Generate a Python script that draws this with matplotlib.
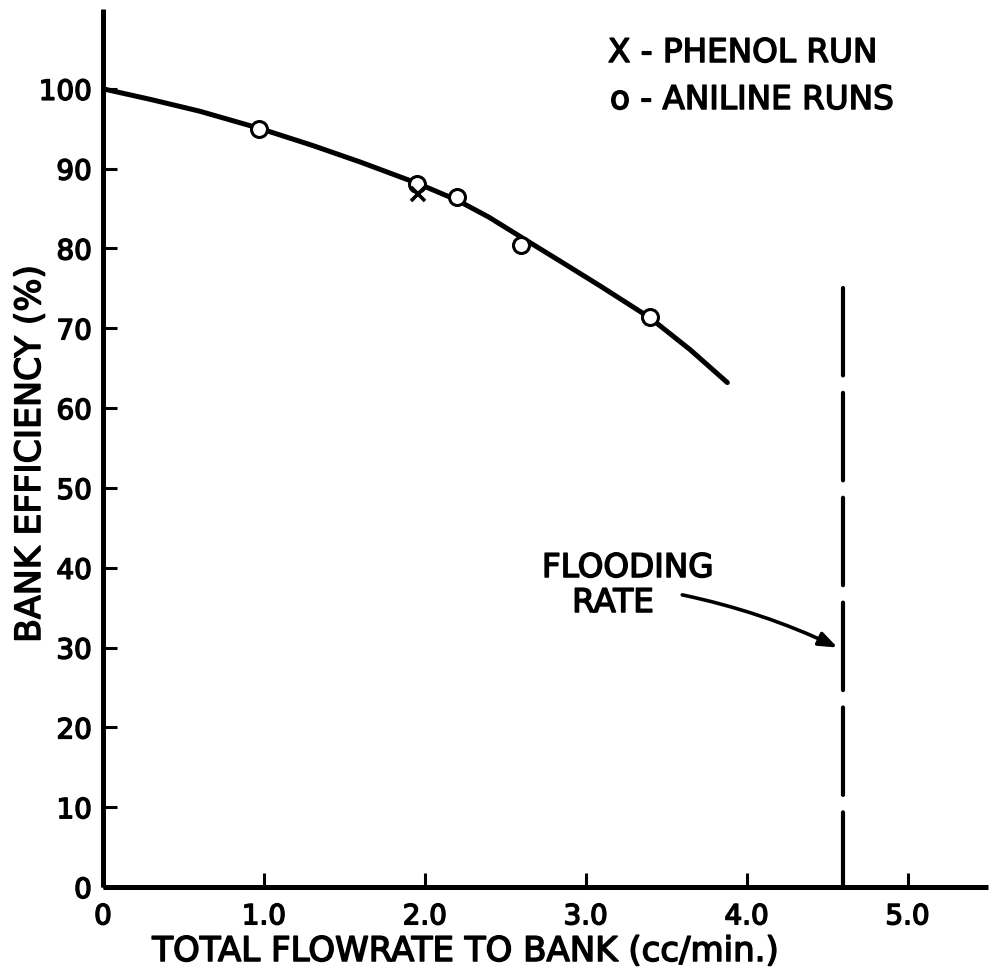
import matplotlib
matplotlib.use("Agg")
import matplotlib.pyplot as plt
import matplotlib.patheffects as pe

# ---- data ----
curve_x = [0.0, 0.3, 0.6, 0.97, 1.3, 1.6, 1.95, 2.2, 2.4, 2.6, 2.85, 3.09, 3.4, 3.65, 3.88]
curve_y = [100.0, 98.65, 97.2, 95.06, 92.92, 90.82, 88.19, 86.06, 83.9, 81.4, 78.3, 75.3, 71.3, 67.3, 63.2]

aniline_x = [0.97, 1.95, 2.2, 2.6, 3.4]
aniline_y = [95.0, 88.1, 86.5, 80.4, 71.4]

phenol_x = [1.96]
phenol_y = [86.8]

flooding_x = 4.6
flooding_y = [75.0, 0.0]

x_ticks = [0, 1, 2, 3, 4, 5]
x_ticklabels = ["0", "1.0", "2.0", "3.0", "4.0", "5.0"]
y_ticks = [0, 10, 20, 30, 40, 50, 60, 70, 80, 90, 100]
y_ticklabels = ["0", "10", "20", "30", "40", "50", "60", "70", "80", "90", "100"]

plt.rcParams["font.family"] = ["DejaVu Sans"]
plt.rcParams["lines.scale_dashes"] = False

thick = [pe.withStroke(linewidth=1.1, foreground="black")]

W, H = 995, 970
fig = plt.figure(figsize=(W / 100, H / 100), dpi=100)
fig.patch.set_facecolor("white")

left, right, bottom, top = 103, 988, 888, 10
ax = fig.add_axes([left / W, 1 - bottom / H, (right - left) / W, (bottom - top) / H])
ax.set_xlim(0, 5.5)
ax.set_ylim(0, 110)

for s in ["top", "right"]:
    ax.spines[s].set_visible(False)
for s in ["left", "bottom"]:
    ax.spines[s].set_linewidth(3.6)
    ax.spines[s].set_capstyle("butt")

ax.set_xticks(x_ticks)
ax.set_xticklabels(x_ticklabels)
ax.set_yticks(y_ticks)
ax.set_yticklabels(y_ticklabels)
ax.tick_params(axis="both", direction="in", length=10, width=2.2, labelsize=20, colors="black")
ax.tick_params(axis="x", pad=11)
ax.tick_params(axis="y", pad=8)
for lab in ax.get_xticklabels() + ax.get_yticklabels():
    lab.set_path_effects(thick)

# curve
ax.plot(curve_x, curve_y, color="black", lw=3.6, solid_capstyle="round",
        solid_joinstyle="round", zorder=3)
# aniline circles
ax.plot(aniline_x, aniline_y, linestyle="none", marker="o", ms=11.5, mfc="white",
        mec="black", mew=2.2, zorder=4)
# phenol x
ax.plot(phenol_x, phenol_y, linestyle="none", marker="x", ms=10.5, mec="black", mew=2.6, zorder=5)

# flooding rate dashed line
ax.plot([flooding_x, flooding_x], flooding_y, color="black", lw=3.0,
        dashes=(63, 12.5), solid_capstyle="round", dash_capstyle="round", zorder=3)

# arrow
ax.annotate("", xy=(4.565, 30.0), xytext=(3.6, 36.6),
            arrowprops=dict(arrowstyle="-|>,head_length=1.1,head_width=0.42",
                            connectionstyle="arc3,rad=-0.06", lw=2.6, color="black",
                            shrinkA=0, shrinkB=0))

def ftext(x, y, s, **kw):
    t = fig.text(x / W, 1 - y / H, s, **kw)
    t.set_path_effects(thick)
    return t

ftext(628, 578, "FLOODING", ha="center", va="baseline", fontsize=23.5)
ftext(613, 613, "RATE", ha="center", va="baseline", fontsize=23.5)

ftext(608, 63, "X - PHENOL RUN", ha="left", va="baseline", fontsize=23.5)
ftext(610, 110, "o - ANILINE RUNS", ha="left", va="baseline", fontsize=23.5)

ftext(465, 962, "TOTAL FLOWRATE TO BANK (cc/min.)", ha="center", va="baseline", fontsize=24.5)
ftext(30, 455, "BANK EFFICIENCY (%)", ha="center", va="center", rotation=90, fontsize=25)

fig.savefig("out.png", dpi=100, facecolor="white")
